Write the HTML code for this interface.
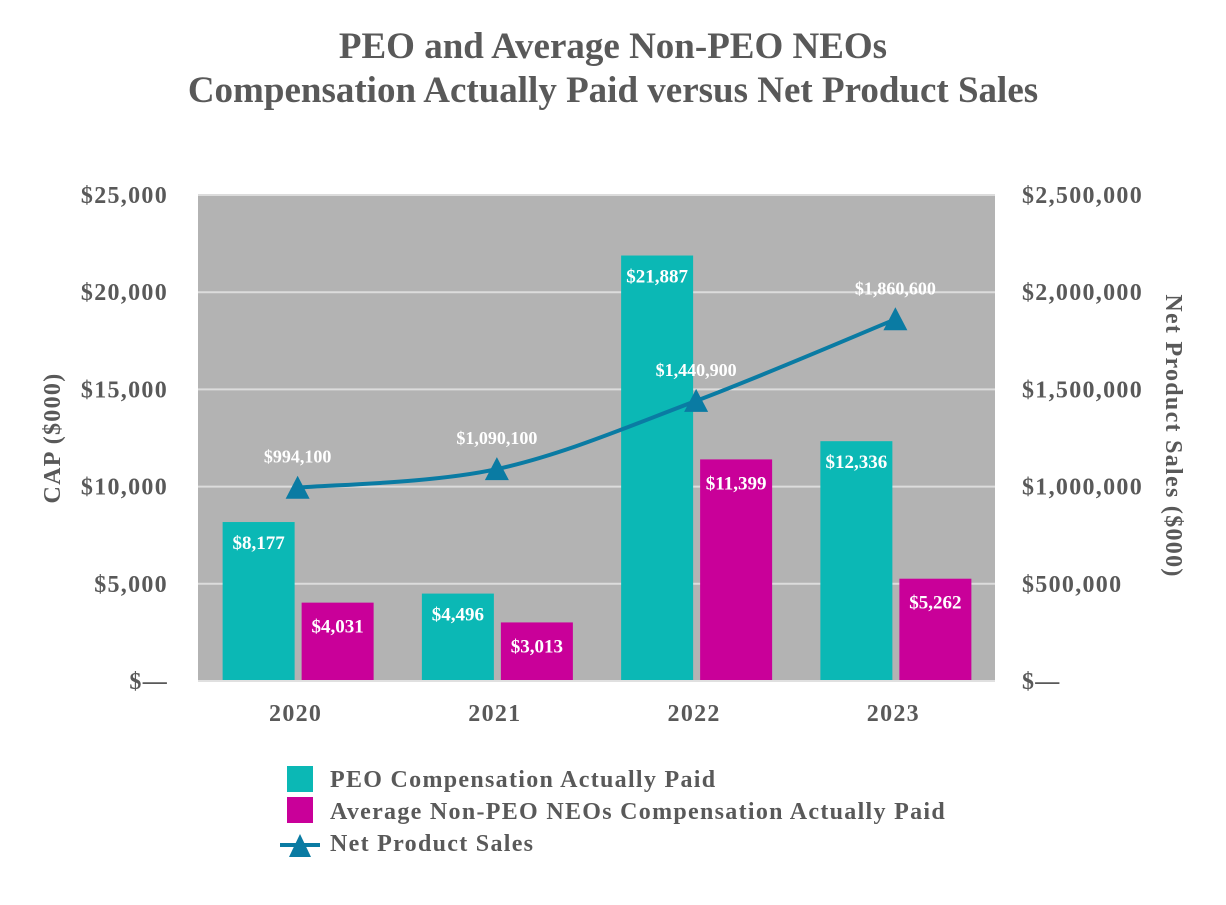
<!DOCTYPE html>
<html><head><meta charset="utf-8"><style>
body{margin:0;background:#fff;}
svg text{font-family:"Liberation Serif",serif;font-weight:bold;}
.big{letter-spacing:1.3px;}
</style></head><body>
<svg id="chart" width="1226" height="900" xmlns="http://www.w3.org/2000/svg">
<text x="613" y="58" text-anchor="middle" font-size="37" fill="#595959">PEO and Average Non-PEO NEOs</text>
<text x="613" y="102" text-anchor="middle" font-size="37" fill="#595959">Compensation Actually Paid versus Net Product Sales</text>
<rect x="198" y="195" width="797" height="486" fill="#b3b3b3"/>
<g id="grid"></g><g id="bars"></g><g id="line"></g><g id="axes"></g>
<text class="big" transform="translate(60,438) rotate(-90)" text-anchor="middle" font-size="24" fill="#595959">CAP ($000)</text>
<text class="big" transform="translate(1166,436) rotate(90)" text-anchor="middle" font-size="24" fill="#595959">Net Product Sales ($000)</text>
<g>
<rect x="287" y="766" width="26" height="26" fill="#0bb8b5"/>
<text class="big" x="330" y="787" font-size="24" fill="#595959">PEO Compensation Actually Paid</text>
<rect x="287" y="797" width="26" height="26" fill="#c90099"/>
<text class="big" x="330" y="819" font-size="24" fill="#595959">Average Non-PEO NEOs Compensation Actually Paid</text>
<line x1="280" y1="845" x2="320" y2="845" stroke="#0a7ba3" stroke-width="4"/>
<polygon points="300,834 311,857 289,857" fill="#0a7ba3"/>
<text class="big" x="330" y="851" font-size="24" fill="#595959">Net Product Sales</text>
</g>
</svg>
<script>
const categories=["2020","2021","2022","2023"];
const peoValues=[8177,4496,21887,12336];
const neoValues=[4031,3013,11399,5262];
const salesValues=[994100,1090100,1440900,1860600];
const leftTicks=["$—","$5,000","$10,000","$15,000","$20,000","$25,000"];
const rightTicks=["$—","$500,000","$1,000,000","$1,500,000","$2,000,000","$2,500,000"];
const NS="http://www.w3.org/2000/svg";
const X0=198,X1=995,Y0=681,Y1=195;
const bw=(X1-X0)/categories.length;
const yL=v=>Y0-v/25000*(Y0-Y1);
const yR=v=>Y0-v/2500000*(Y0-Y1);
const xC=i=>X0+bw*(i+0.5);
function mk(t,a,p){const e=document.createElementNS(NS,t);for(const k in a)e.setAttribute(k,a[k]);p.appendChild(e);return e;}
const fmt=v=>"$"+v.toLocaleString("en-US");
const grid=document.getElementById("grid"),bars=document.getElementById("bars"),line=document.getElementById("line"),axes=document.getElementById("axes");
leftTicks.forEach((t,i)=>{
 const y=yL(i*5000);
 if(i>0){const g=mk("line",{x1:X0,x2:X1,y1:y,y2:y,stroke:"#dcdcdc","stroke-width":2},grid);
 
 }
 const a=mk("text",{x:168,y:y+8,"text-anchor":"end","font-size":24,fill:"#595959",class:"big"},axes);a.textContent=t;
 
 
 const b=mk("text",{x:1022,y:yR(i*500000)+8,"font-size":24,fill:"#595959",class:"big"},axes);b.textContent=rightTicks[i];
 
 
});
const base=mk("line",{x1:X0,x2:X1,y1:Y0,y2:Y0,stroke:"#e0e0e0","stroke-width":2},axes);


categories.forEach((c,i)=>{
 const cx=xC(i);
 const t=mk("text",{x:cx-2,y:721,"text-anchor":"middle","font-size":24,fill:"#595959",class:"big"},axes);t.textContent=c;
 
 
 const p=mk("rect",{x:cx-75,y:yL(peoValues[i]),width:72,height:Y0-yL(peoValues[i]),fill:"#0bb8b5"},bars);
 
 
 const pl=mk("text",{x:cx-39,y:yL(peoValues[i])+27,"text-anchor":"middle","font-size":19,fill:"#fff"},bars);pl.textContent=fmt(peoValues[i]);
 
 
 const n=mk("rect",{x:cx+4,y:yL(neoValues[i]),width:72,height:Y0-yL(neoValues[i]),fill:"#c90099"},bars);
 
 
 const nl=mk("text",{x:cx+40,y:yL(neoValues[i])+30,"text-anchor":"middle","font-size":19,fill:"#fff"},bars);nl.textContent=fmt(neoValues[i]);
 
 
});
const pts=salesValues.map((v,i)=>[xC(i),yR(v)]);
let d="M"+pts[0][0]+","+pts[0][1];
for(let i=0;i<pts.length-1;i++){
 const p0=pts[Math.max(0,i-1)],p1=pts[i],p2=pts[i+1],p3=pts[Math.min(pts.length-1,i+2)];
 const t=1/6;
 d+=` C${p1[0]+(p2[0]-p0[0])*t},${p1[1]+(p2[1]-p0[1])*t} ${p2[0]-(p3[0]-p1[0])*t},${p2[1]-(p3[1]-p1[1])*t} ${p2[0]},${p2[1]}`;
}
const path=mk("path",{d:d,fill:"none",stroke:"#0a7ba3","stroke-width":4},line);


pts.forEach((p,i)=>{
 const m=mk("polygon",{points:`${p[0]},${p[1]-12} ${p[0]+12},${p[1]+11} ${p[0]-12},${p[1]+11}`,fill:"#0a7ba3"},line);
 
 
 const l=mk("text",{x:p[0],y:p[1]-25,"text-anchor":"middle","font-size":18,fill:"#fff"},line);l.textContent=fmt(salesValues[i]);
 
 
});
</script>
</body></html>
